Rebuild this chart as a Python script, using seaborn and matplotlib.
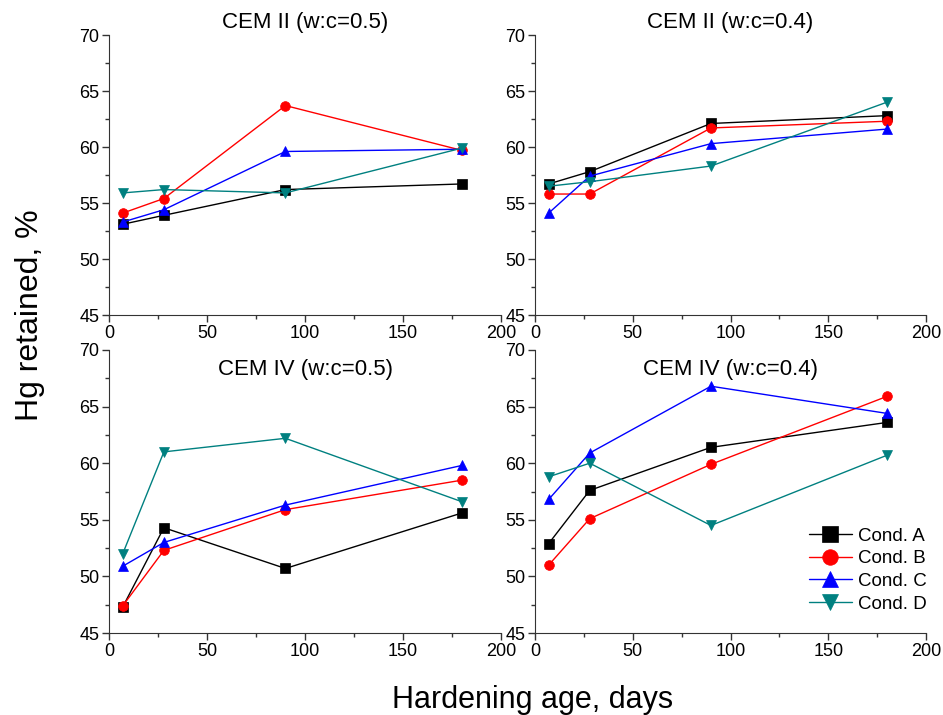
import matplotlib
matplotlib.use("Agg")
import matplotlib.pyplot as plt
from matplotlib.ticker import MultipleLocator
import seaborn as sns
import pandas as pd

# hardening age (days)
ages = [7, 28, 90, 180]
conditions = ["Cond. A", "Cond. B", "Cond. C", "Cond. D"]
panel_titles = ["CEM II (w:c=0.5)", "CEM II (w:c=0.4)",
                "CEM IV (w:c=0.5)", "CEM IV (w:c=0.4)"]

# Hg retained, % -- one list per condition and panel
cem2_05_a = [53.1, 53.9, 56.2, 56.7]
cem2_05_b = [54.1, 55.4, 63.7, 59.7]
cem2_05_c = [53.3, 54.4, 59.6, 59.8]
cem2_05_d = [55.9, 56.2, 55.9, 59.9]

cem2_04_a = [56.7, 57.8, 62.1, 62.8]
cem2_04_b = [55.8, 55.8, 61.7, 62.3]
cem2_04_c = [54.1, 57.4, 60.3, 61.6]
cem2_04_d = [56.5, 56.9, 58.3, 64.0]

cem4_05_a = [47.3, 54.3, 50.7, 55.6]
cem4_05_b = [47.4, 52.3, 55.9, 58.5]
cem4_05_c = [50.9, 53.0, 56.3, 59.8]
cem4_05_d = [52.0, 61.0, 62.2, 56.6]

cem4_04_a = [52.9, 57.6, 61.4, 63.6]
cem4_04_b = [51.0, 55.1, 59.9, 65.9]
cem4_04_c = [56.8, 60.9, 66.8, 64.4]
cem4_04_d = [58.8, 60.0, 54.5, 60.7]

panels = [
    [cem2_05_a, cem2_05_b, cem2_05_c, cem2_05_d],
    [cem2_04_a, cem2_04_b, cem2_04_c, cem2_04_d],
    [cem4_05_a, cem4_05_b, cem4_05_c, cem4_05_d],
    [cem4_04_a, cem4_04_b, cem4_04_c, cem4_04_d],
]

palette = {"Cond. A": "#000000", "Cond. B": "#FF0000",
           "Cond. C": "#0000FF", "Cond. D": "#008080"}
markers = {"Cond. A": "s", "Cond. B": "o", "Cond. C": "^", "Cond. D": "v"}

sns.set_style("ticks")
plt.rcParams["font.family"] = ["Liberation Sans", "DejaVu Sans"]
plt.rcParams["text.color"] = "black"
plt.rcParams["axes.edgecolor"] = "#333333"
plt.rcParams["xtick.color"] = "#333333"
plt.rcParams["ytick.color"] = "#333333"
plt.rcParams["xtick.labelcolor"] = "black"
plt.rcParams["ytick.labelcolor"] = "black"

fig = plt.figure(figsize=(9.43, 7.15), dpi=100)
W, H = 943, 715
# axes boxes in pixels: left, top, right, bottom
boxes = [(109, 35, 501, 315), (535, 35, 926, 315),
         (109, 350, 501, 633), (535, 350, 926, 633)]

for i, (series, title) in enumerate(zip(panels, panel_titles)):
    l, t, r, b = boxes[i]
    ax = fig.add_axes([l / W, 1 - b / H, (r - l) / W, (b - t) / H])
    rows = []
    for cond, vals in zip(conditions, series):
        for x, y in zip(ages, vals):
            rows.append({"age": x, "hg": y, "cond": cond})
    df = pd.DataFrame(rows)
    sns.lineplot(data=df, x="age", y="hg", hue="cond", style="cond",
                 palette=palette, markers=markers, dashes=False,
                 markersize=7, markeredgewidth=0.5, linewidth=1.0,
                 ax=ax, legend=(i == 3))
    for line in ax.lines:
        line.set_markeredgecolor(line.get_color())
    ax.set_xlim(0, 200)
    ax.set_ylim(45, 70)
    ax.xaxis.set_major_locator(MultipleLocator(50))
    ax.xaxis.set_minor_locator(MultipleLocator(25))
    ax.yaxis.set_major_locator(MultipleLocator(5))
    ax.yaxis.set_minor_locator(MultipleLocator(2.5))
    ax.tick_params(which="major", direction="out", length=5, width=1,
                   labelsize=13, pad=2)
    ax.tick_params(which="minor", direction="out", length=3, width=1)
    ax.set_xlabel("")
    ax.set_ylabel("")
    sns.despine(ax=ax)
    if i < 2:
        ax.text(0.5, 1.046, title, transform=ax.transAxes, ha="center",
                va="center", fontsize=16)
    else:
        ax.text(0.5, 0.93, title, transform=ax.transAxes, ha="center",
                va="center", fontsize=16)
    if i == 3:
        leg = ax.legend(loc="lower right", bbox_to_anchor=(1.02, 0.045),
                        frameon=False, fontsize=13.5, markerscale=1.6,
                        handlelength=2.3, labelspacing=0.3,
                        handletextpad=0.3, borderaxespad=0.0)
        for h in leg.legend_handles:
            h.set_markeredgecolor(h.get_color())

fig.text(30 / W, 1 - 315 / H, "Hg retained, %", rotation=90,
         ha="center", va="center", fontsize=23)
fig.text(533 / W, 1 - 700 / H, "Hardening age, days",
         ha="center", va="center", fontsize=22)

fig.savefig("out.png", dpi=100)
